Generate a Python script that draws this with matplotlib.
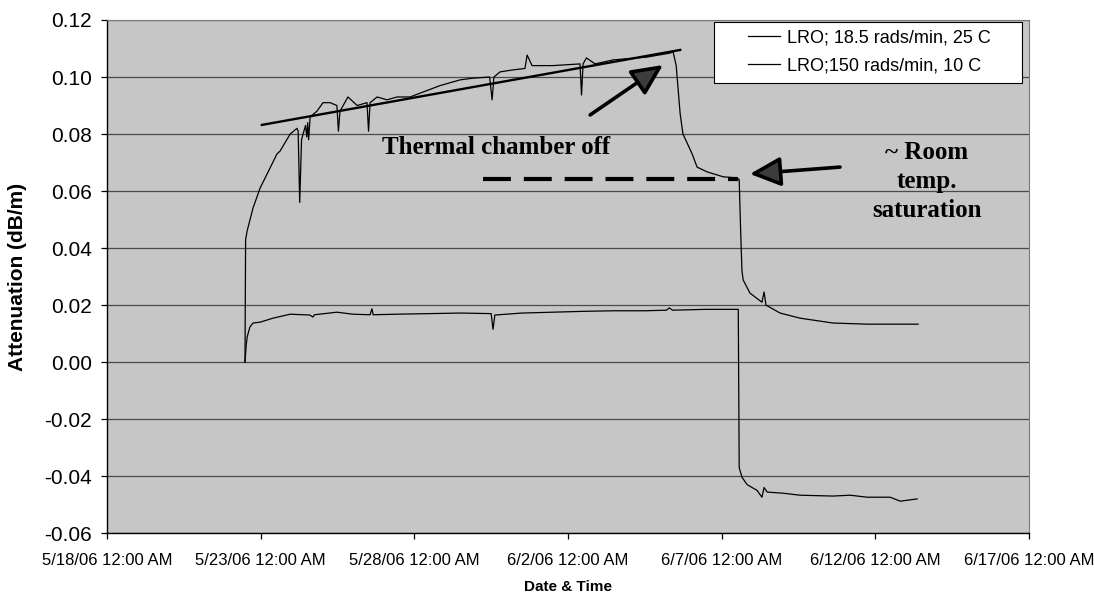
#!/usr/bin/env python3
# -*- coding: utf-8 -*-
import pandas as pd
import matplotlib
matplotlib.use('Agg')
import matplotlib.pyplot as plt
from matplotlib.patches import Rectangle

START = pd.Timestamp('2006-05-18')

# LRO; 18.5 rads/min, 25 C  (days after 5/18/06, dB/m)
lro1_days = [4.49, 4.51, 4.56, 4.75, 4.98, 5.21, 5.53, 5.63, 5.96, 6.18,
             6.22, 6.27, 6.33, 6.38, 6.46, 6.50, 6.53, 6.56, 6.61, 6.83,
             7.03, 7.26, 7.48, 7.53, 7.58, 7.84, 8.14, 8.46, 8.51, 8.56,
             8.79, 9.11, 9.44, 9.86, 10.84, 11.49, 11.91, 12.45, 12.53, 12.59,
             12.79, 13.21, 13.60, 13.67, 13.83, 14.51, 15.39, 15.44, 15.49, 15.60,
             15.88, 16.47, 17.57, 18.32, 18.42, 18.52, 18.55, 18.65, 18.74, 18.87,
             19.04, 19.20, 19.53, 20.05, 20.50, 20.57, 20.62, 20.66, 20.70, 20.92,
             21.31, 21.38, 21.44, 21.90, 22.55, 23.62, 24.73, 25.81, 26.39]
lro1_att = [0.000, 0.043, 0.046, 0.054, 0.061, 0.066, 0.073, 0.074, 0.080, 0.082,
            0.081, 0.056, 0.078, 0.080, 0.083, 0.079, 0.084, 0.078, 0.086, 0.088,
            0.091, 0.091, 0.090, 0.081, 0.088, 0.093, 0.090, 0.091, 0.081, 0.091,
            0.093, 0.092, 0.093, 0.093, 0.097, 0.099, 0.0996, 0.100, 0.092, 0.100,
            0.1018, 0.1025, 0.103, 0.1077, 0.104, 0.104, 0.1046, 0.0937, 0.1046, 0.1067,
            0.1046, 0.106, 0.107, 0.1084, 0.1088, 0.104, 0.100, 0.087, 0.080, 0.077,
            0.073, 0.0684, 0.0667, 0.065, 0.0646, 0.0640, 0.045, 0.032, 0.0288, 0.0242,
            0.021, 0.0246, 0.020, 0.0172, 0.0154, 0.0137, 0.0133, 0.0133, 0.0133]

# LRO;150 rads/min, 10 C
lro2_days = [4.49, 4.53, 4.56, 4.65, 4.75, 4.98, 5.40, 5.96, 6.60, 6.70,
             6.75, 7.48, 8.00, 8.56, 8.62, 8.66, 9.44, 10.5, 11.5, 12.50,
             12.56, 12.62, 13.5, 14.5, 15.5, 16.5, 17.5, 18.2, 18.30, 18.40,
             19.5, 20.54, 20.57, 20.66, 20.83, 21.15, 21.31, 21.38, 21.48, 22.00,
             22.55, 23.62, 24.18, 24.73, 25.48, 25.81, 26.36]
lro2_att = [0.000, 0.006, 0.0088, 0.0123, 0.0137, 0.014, 0.0154, 0.0168, 0.0165, 0.0158,
            0.0166, 0.0175, 0.0168, 0.0166, 0.0187, 0.0166, 0.0168, 0.0170, 0.0172, 0.0170,
            0.0115, 0.0165, 0.0172, 0.0175, 0.0178, 0.0180, 0.0180, 0.0182, 0.0190, 0.0182,
            0.0185, 0.0185, -0.037, -0.0404, -0.043, -0.045, -0.0474, -0.044, -0.0456, -0.046,
            -0.0467, -0.047, -0.0467, -0.0474, -0.0474, -0.0488, -0.048]

# hand drawn annotations
trend_days = [5.04, 18.65]
trend_att = [0.0832, 0.1095]
room_days = [12.24, 20.53]
room_att = [0.0642, 0.0642]

tick_days = [0, 5, 10, 15, 20, 25, 30]
tick_labels = ['5/18/06 12:00 AM', '5/23/06 12:00 AM', '5/28/06 12:00 AM',
               '6/2/06 12:00 AM', '6/7/06 12:00 AM', '6/12/06 12:00 AM',
               '6/17/06 12:00 AM']
y_ticks = [-0.06, -0.04, -0.02, 0.00, 0.02, 0.04, 0.06, 0.08, 0.10, 0.12]


def to_date(days):
    return START + pd.to_timedelta(pd.Series(days, dtype=float), unit='D')


plt.rcParams['font.family'] = ['Liberation Sans', 'DejaVu Sans']

fig = plt.figure(figsize=(10.94, 5.97), dpi=100)
ax = fig.add_axes([0.0978, 0.107, 0.8428, 0.8595])
ax.set_facecolor('#c6c6c6')

ax.plot(to_date(lro1_days), lro1_att, color='black', lw=0.9,
        label='LRO; 18.5 rads/min, 25 C', zorder=3)
ax.plot(to_date(lro2_days), lro2_att, color='black', lw=0.9,
        label='LRO;150 rads/min, 10 C', zorder=3)

ax.plot(to_date(trend_days), trend_att, color='black', lw=1.7, zorder=4)
dash, = ax.plot(to_date(room_days), room_att, color='black', lw=3, zorder=4)
dash.set_dashes((6.7, 3.1))

arrow_kw = dict(arrowstyle='-|>,head_length=0.95,head_width=0.45',
                mutation_scale=20, lw=2.6, fc='#3c3c3c', ec='black',
                shrinkA=0, shrinkB=0)
tip1, tail1 = to_date([18.09, 15.72])
ax.annotate('', xy=(tip1, 0.1042), xytext=(tail1, 0.0867),
            arrowprops=arrow_kw, zorder=5)
tip2, tail2 = to_date([20.92, 23.85])
ax.annotate('', xy=(tip2, 0.0660), xytext=(tail2, 0.0684),
            arrowprops=arrow_kw, zorder=5)

serif = ['Liberation Serif', 'DejaVu Serif']
x_txt1, x_txt2 = to_date([8.95, 26.68])
ax.text(x_txt1, 0.0751, 'Thermal chamber off', family=serif, fontsize=18,
        weight='bold', ha='left', va='center', zorder=5)
ax.text(x_txt2, 0.0632, '~ Room\ntemp.\nsaturation', family=serif, fontsize=18,
        weight='bold', ha='center', va='center', linespacing=1.33, zorder=5)

ax.set_xlim(to_date([0, 30]))
ax.set_ylim(-0.06, 0.12)
ax.set_xticks(to_date(tick_days))
ax.set_xticklabels(tick_labels, fontsize=12)
ax.set_yticks(y_ticks)
ax.set_yticklabels(['{:.2f}'.format(v) for v in y_ticks], fontsize=15)
ax.tick_params(axis='x', length=4, width=0.9, pad=10)
ax.tick_params(axis='y', length=4, width=0.9, pad=7)

ax.grid(axis='y', color='#4a4a4a', lw=0.9)
ax.set_axisbelow(True)
for side in ['left', 'bottom']:
    ax.spines[side].set_color('black')
    ax.spines[side].set_linewidth(1.0)
for side in ['top', 'right']:
    ax.spines[side].set_color('#7a7a7a')
    ax.spines[side].set_linewidth(0.8)

ax.set_xlabel('Date & Time', fontsize=11, weight='bold')
ax.xaxis.set_label_coords(0.5, -0.092)
ax.set_ylabel('Attenuation (dB/m)', fontsize=15, weight='bold', labelpad=12)

# legend box drawn by hand: Excel pads it wide on the sides
ax.add_patch(Rectangle((0.6584, 0.877), 0.334, 0.119, transform=ax.transAxes,
                       facecolor='white', edgecolor='black', lw=0.8, zorder=6))
leg = ax.legend(loc='center', bbox_to_anchor=(0.827, 0.9376), fontsize=13,
                frameon=False, handlelength=1.72, handletextpad=0.4,
                labelspacing=0.6, borderpad=0, borderaxespad=0)
leg.set_zorder(7)

fig.savefig('out.png', dpi=100)
